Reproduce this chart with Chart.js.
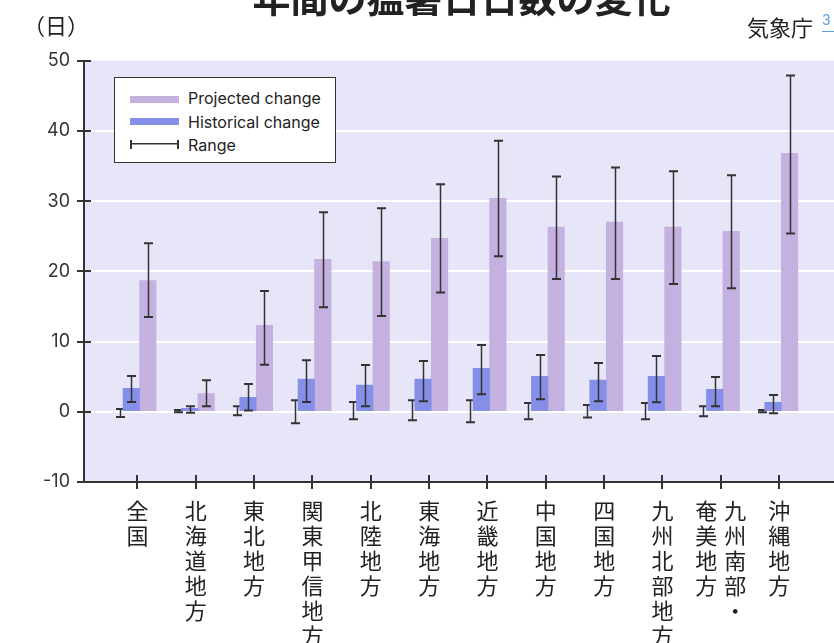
<!DOCTYPE html>
<html lang="ja">
<head>
<meta charset="utf-8">
<title>年間の猛暑日日数の変化</title>
<script src="https://cdn.jsdelivr.net/npm/chart.js@4.4.1/dist/chart.umd.min.js"></script>
<style>
  body { margin: 0; background: #fff; }
  #wrap { position: relative; width: 834px; height: 643px; overflow: hidden; font-family: "Noto Sans CJK JP", sans-serif; color: #222; }
  #chart { position: absolute; left: 0; top: 0; }
  .title { position: absolute; left: 0; width: 923px; top: -23px; text-align: center; font-size: 38px; line-height: 38px; font-weight: bold; white-space: nowrap; }
  .unit { position: absolute; left: 23px; top: 13px; font-size: 22px; line-height: 22px; }
  .source { position: absolute; left: 747px; top: 15px; font-size: 22px; line-height: 22px; white-space: nowrap; }
  .ref { position: absolute; left: 822px; top: 13px; width: 14px; height: 18px; border-bottom: 1.5px solid #5aa0dc; color: #5aa0dc; font: 14px Inter, sans-serif; line-height: 14px; }
  #legend { position: absolute; left: 114px; top: 77px; width: 220px; height: 84px; background: #fff; border: 1px solid #333; font: 16px Inter, sans-serif; color: #222; }
  #legend .row { position: absolute; left: 73px; height: 20px; line-height: 20px; white-space: nowrap; }
  #legend .sw { position: absolute; left: 15px; width: 49px; }
</style>
</head>
<body>
<div id="wrap">
  <canvas id="chart" width="834" height="643"></canvas>
  <div class="title">年間の猛暑日日数の変化</div>
  <div class="unit">（日）</div>
  <div class="source">気象庁</div>
  <div class="ref">3</div>
  <div id="legend"></div>
</div>
<script>
// categories, one per region (an array = label broken into columns)
const categories = ['全国', '北海道地方', '東北地方', '関東甲信地方', '北陸地方', '東海地方',
  '近畿地方', '中国地方', '四国地方', '九州北部地方', ['九州南部・', '奄美地方'], '沖縄地方'];

// projected change (days) and its range
const projected     = [18.7, 2.6, 12.3, 21.7, 21.4, 24.7, 30.4, 26.3, 27.0, 26.3, 25.7, 36.8];
const projectedLow  = [13.5, 0.8, 6.7, 14.9, 13.65, 17.0, 22.15, 18.9, 18.9, 18.2, 17.6, 25.4];
const projectedHigh = [24.0, 4.5, 17.2, 28.4, 29.0, 32.4, 38.6, 33.5, 34.8, 34.25, 33.7, 47.9];

// historical change (days) and its range
const historical     = [3.35, 0.5, 2.05, 4.65, 3.8, 4.65, 6.2, 5.05, 4.5, 5.05, 3.2, 1.35];
const historicalLow  = [1.4, -0.15, 0.2, 1.4, 0.8, 1.5, 2.5, 1.8, 1.5, 1.35, 0.8, -0.2];
const historicalHigh = [5.1, 0.8, 3.95, 7.35, 6.65, 7.25, 9.5, 8.1, 6.95, 7.95, 4.95, 2.4];

// baseline range (no bar)
const baselineLow  = [-0.75, -0.05, -0.5, -1.65, -1.05, -1.2, -1.5, -1.05, -0.8, -1.05, -0.65, -0.05];
const baselineHigh = [0.4, 0.25, 0.8, 1.65, 1.4, 1.65, 1.65, 1.25, 0.95, 1.25, 0.8, 0.25];

const yTicks = [-10, 0, 10, 20, 30, 40, 50];

const seriesNames = ['Projected change', 'Historical change', 'Range'];
const colors = { projected: '#c5b1df', historical: '#868fe8', range: '#333', plot: '#e6e6f8' };

// where each mark sits within its category slot
const OFF_BASE = -0.3, OFF_HIST = -0.105, OFF_PROJ = 0.178;

function drawRanges(chart, offset, lows, highs) {
  const { ctx, scales: { x, y } } = chart;
  ctx.save();
  ctx.strokeStyle = colors.range;
  lows.forEach((lo, i) => {
    const px = Math.round(x.getPixelForValue(i + offset)) + 0.5;
    const y1 = y.getPixelForValue(lo);
    const y2 = y.getPixelForValue(highs[i]);
    ctx.lineWidth = 1.5;
    ctx.beginPath(); ctx.moveTo(px, y1); ctx.lineTo(px, y2); ctx.stroke();
    ctx.lineWidth = 2;
    ctx.beginPath();
    ctx.moveTo(px - 4.5, y1); ctx.lineTo(px + 4.5, y1);
    ctx.moveTo(px - 4.5, y2); ctx.lineTo(px + 4.5, y2);
    ctx.stroke();
  });
  ctx.restore();
}

const plotBackground = {
  id: 'plotBackground',
  beforeDraw(chart) {
    const { ctx, chartArea: a } = chart;
    ctx.save();
    ctx.fillStyle = colors.plot;
    ctx.fillRect(a.left, a.top, a.right - a.left, a.bottom - a.top);
    ctx.restore();
  }
};

const rangeBars = {
  id: 'rangeBars',
  beforeDatasetsDraw(chart) {
    drawRanges(chart, OFF_BASE, baselineLow, baselineHigh);
  },
  afterDatasetsDraw(chart) {
    drawRanges(chart, OFF_HIST, historicalLow, historicalHigh);
    drawRanges(chart, OFF_PROJ, projectedLow, projectedHigh);
  }
};

// tick marks crossing the axes, and vertical category labels
const axisDecor = {
  id: 'axisDecor',
  afterDraw(chart) {
    const { ctx, chartArea: a, scales: { x, y } } = chart;
    ctx.save();
    ctx.strokeStyle = '#333';
    ctx.lineWidth = 2;
    ctx.beginPath();
    yTicks.forEach(v => {
      const py = Math.round(y.getPixelForValue(v));
      ctx.moveTo(a.left - 7, py); ctx.lineTo(a.left + 7, py);
    });
    categories.forEach((_, i) => {
      const px = Math.round(x.getPixelForValue(i));
      ctx.moveTo(px, a.bottom - 7); ctx.lineTo(px, a.bottom + 7);
    });
    ctx.stroke();

    ctx.fillStyle = '#222';
    ctx.font = '22px "Noto Sans CJK JP"';
    ctx.textAlign = 'center';
    ctx.textBaseline = 'top';
    categories.forEach((label, i) => {
      const cols = Array.isArray(label) ? label : [label];
      const cx = x.getPixelForValue(i);
      cols.forEach((col, c) => {
        // columns run right to left
        const colX = cx + ((cols.length - 1) / 2 - c) * 29;
        [...col].forEach((ch, k) => ctx.fillText(ch, colX, a.bottom + 18 + k * 25));
      });
    });
    ctx.restore();
  }
};

new Chart(document.getElementById('chart'), {
  type: 'bar',
  data: {
    datasets: [
      {
        label: seriesNames[1],
        data: historical.map((v, i) => ({ x: i + OFF_HIST, y: v })),
        backgroundColor: colors.historical
      },
      {
        label: seriesNames[0],
        data: projected.map((v, i) => ({ x: i + OFF_PROJ, y: v })),
        backgroundColor: colors.projected
      }
    ]
  },
  options: {
    responsive: false,
    devicePixelRatio: 1,
    animation: false,
    events: [],
    grouped: false,
    categoryPercentage: 1,
    barPercentage: 1,
    layout: { padding: { top: 60.7, left: 0, right: 0, bottom: 0 } },
    plugins: { legend: { display: false }, title: { display: false }, tooltip: { enabled: false } },
    scales: {
      x: {
        type: 'linear',
        min: -0.916,
        max: 11.94,
        offset: false,
        afterBuildTicks: s => { s.ticks = categories.map((_, i) => ({ value: i })); },
        afterFit: s => { s.height = 161; },
        ticks: { display: false },
        grid: { display: false, offset: false },
        border: { color: '#333', width: 2 }
      },
      y: {
        min: -10,
        max: 50,
        afterBuildTicks: s => { s.ticks = yTicks.map(v => ({ value: v })); },
        afterFit: s => { s.width = 84; },
        ticks: { padding: 14, color: '#333', font: { family: 'Inter', size: 18 } },
        grid: {
          drawTicks: false,
          lineWidth: 2,
          color: c => (c.tick && (c.tick.value === -10 || c.tick.value === 50)) ? 'rgba(0,0,0,0)' : '#fff'
        },
        border: { color: '#333', width: 2 }
      }
    }
  },
  plugins: [plotBackground, rangeBars, axisDecor]
});

// legend
const legend = document.getElementById('legend');
const rows = [
  { name: seriesNames[0], color: colors.projected },
  { name: seriesNames[1], color: colors.historical },
  { name: seriesNames[2], color: null }
];
rows.forEach((r, k) => {
  const mid = 21 + k * 22.5;
  const sw = document.createElement('div');
  sw.className = 'sw';
  if (r.color) {
    sw.style.top = (mid - 3.5) + 'px';
    sw.style.height = '7px';
    sw.style.background = r.color;
  } else {
    sw.style.top = (mid - 4.5) + 'px';
    sw.style.height = '9px';
    sw.style.borderLeft = '2px solid ' + colors.range;
    sw.style.borderRight = '2px solid ' + colors.range;
    sw.style.boxSizing = 'border-box';
    sw.style.background = `linear-gradient(${colors.range}, ${colors.range}) center / 100% 1.5px no-repeat`;
  }
  legend.appendChild(sw);
  const t = document.createElement('div');
  t.className = 'row';
  t.style.top = (10 + k * 23.5) + 'px';
  t.textContent = r.name;
  legend.appendChild(t);
});
</script>
</body>
</html>
